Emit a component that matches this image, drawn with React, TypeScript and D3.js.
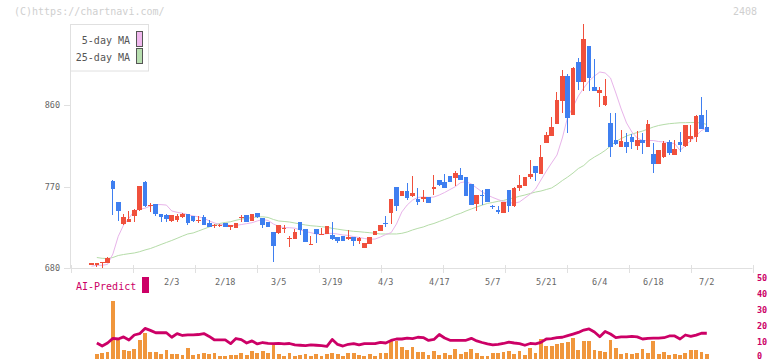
import * as d3 from "d3";

// price candles (one per trading day, 1/13 .. 7/2)
const open = [
  684, 684, 685, 686, 776, 753, 729, 731, 737, 744,
  775, 748.5, 751, 740, 738, 732, 733, 736, 740, 737,
  732.5, 736, 730, 727, 727, 730, 725, 724.5, 735, 738.5,
  732, 741, 735, 730.5, 719.5, 719, 724, 711.7, 712, 731,
  723, 706, 723, 717.5, 718, 716, 714, 715, 711.7, 714,
  710, 702.4, 707, 717, 721, 730, 741, 769.5, 760, 765,
  759, 756, 757.5, 758, 767.6, 777, 775, 781.6, 779.7, 782.7,
  780.5, 773, 750.4, 761, 767, 749, 744, 741, 766, 748,
  768, 771, 781, 792.7, 784, 818.4, 826, 839.4, 865, 892,
  849, 907, 885, 925, 880, 873, 860, 840, 821, 814,
  819, 825, 815, 821, 814, 806, 795, 803, 819, 805,
  819, 815, 822.5, 825, 849, 836,
];
const close = [
  685, 685, 687, 691, 767, 743, 736, 734, 744, 771,
  748, 749.5, 740, 736, 734, 738.5, 737, 740, 730, 732,
  733, 728, 725, 727.5, 727.5, 725, 727.5, 730, 736, 731,
  739.6, 736, 728, 725.6, 704.6, 727.5, 724.5, 713, 720, 722,
  709, 707, 718, 718, 726, 712, 710, 710, 714, 710,
  713, 707.3, 714, 721, 728, 728.6, 756, 749, 765, 757.6,
  763, 753, 758, 752, 769.5, 772, 768.7, 775, 784.6, 777.7,
  760, 750, 760.6, 760.5, 753, 748, 742, 753, 748, 768.7,
  771.7, 780.5, 784, 785, 803, 827, 836, 865.6, 892, 846,
  901, 885, 933, 890, 876, 877, 870, 814, 817, 820,
  814, 819.5, 821, 818, 839, 795, 810, 818, 807, 811,
  816, 838, 826, 848, 834, 830,
];
const high = [
  685, 685, 687, 692, 777, 753, 740, 743, 745, 771,
  776, 752, 751, 740, 740, 739, 740, 741, 740, 737,
  737, 738, 733, 729, 729, 730, 728, 730, 738, 739,
  740, 741, 735, 731, 720, 728, 728, 715, 723, 731,
  723, 715, 723, 724, 726, 731, 714, 715, 722, 714,
  714, 707.5, 714, 721, 728, 737, 756, 770, 765, 774,
  782, 768, 766, 758.5, 783, 777, 784, 782, 787, 790,
  781, 773, 761, 766, 767, 749.5, 748, 753, 766, 769,
  783, 781, 799, 793, 816, 830, 847, 874, 899, 894,
  902, 912, 949.5, 925, 911, 880, 889, 851, 851, 832,
  829, 828, 831, 829, 843.5, 818, 810, 820, 821, 821,
  830, 838, 838, 849, 869, 854.5,
];
const low = [
  684, 681, 680, 686, 738, 732, 727, 731, 731, 743,
  747, 742, 737, 731, 731, 731, 731, 735, 727, 731,
  730, 727, 725, 724, 725, 725, 722, 724, 731, 731,
  732, 735, 724.5, 725, 687, 718, 719, 703, 712, 716,
  709, 706, 708, 716, 718, 711, 708, 710, 711, 704,
  706, 702, 706, 716, 721, 725.6, 729, 743, 760, 755,
  758, 750, 753, 752, 761, 771, 768, 775, 771, 777,
  759, 750, 743, 749.6, 753, 745, 739.6, 741, 742, 747,
  765, 771, 778, 776, 784, 818, 826, 839, 851.5, 829,
  849, 877, 875, 875, 875, 858, 859, 803, 816, 814,
  807, 811, 810, 806, 814, 785, 795, 802, 805, 805,
  808.5, 814, 819, 819, 833, 830,
];

const ma5 = [
  682, 683, 683, 684, 695.5, 715, 727.5, 735, 743, 745,
  746, 748.5, 750, 750, 749.5, 743, 741.5, 740.5, 739, 737.5,
  736.5, 735, 732, 729.7, 728, 727.5, 727, 727, 728, 729,
  730, 732, 733.6, 732.5, 728.6, 726, 724.5, 724.5, 724, 722,
  720.3, 719, 717.5, 717, 718, 718.3, 717.5, 716.5, 716, 714.6,
  713.7, 712.6, 711.7, 712, 714.2, 717, 719, 728.6, 741.9, 749.6,
  755, 758, 758.4, 758, 758.4, 760.6, 763.4, 766.7, 769.8, 774.4,
  775.3, 772.8, 768.4, 764, 760.6, 757.9, 755.6, 753.4, 752.3, 751.5,
  753, 757.3, 761.7, 767.3, 777.2, 787, 796, 804.8, 823.6, 846.8,
  858, 870, 878.8, 886.5, 892, 896.5, 895.4, 889.9, 873.3, 855.6,
  840.2, 830.2, 823.6, 820.8, 820.8, 820.8, 819.7, 819.2, 818, 817.5,
  809.8, 815.3, 820.8, 825.8, 831.9, 834.6,
];
const ma25 = [
  null, 691.6, 690.7, 690.5, 691.6, 693.8, 694.9, 695.8, 696.6, 698,
  699.9, 701.5, 703.7, 706, 708.2, 710.4, 712.8, 715.3, 717.6, 718.7,
  720.9, 723.1, 725.3, 727.5, 729.2, 730.3, 731.1, 732.7, 734.1, 734.7,
  735.8, 736.3, 736.6, 735.8, 733.6, 731.9, 731.4, 730.8, 729.7, 728.6,
  727.5, 726.7, 726.2, 725.6, 725, 723.8, 722.9, 722, 721.2, 720.5,
  720.1, 719.5, 719, 718.3, 717.6, 717.6, 717.6, 717.6, 718.3, 719.8,
  722, 723.8, 725.3, 727.5, 729.2, 731.4, 733.6, 735.8, 738.5, 740.4,
  743, 745.2, 747.4, 749.4, 751.3, 752.4, 753.7, 754.6, 756.2, 757.6,
  759.2, 760.6, 762.3, 763.9, 765, 766.7, 768.4, 772.2, 776.6, 780.5,
  784.9, 789.9, 793.2, 798.7, 802.6, 805.9, 809.8, 814.7, 819.7, 823,
  825.8, 828, 829.6, 831.3, 833.5, 835.7, 837.4, 838.5, 839.4, 839.9,
  840.4, 840.5, 840.7, 840.7, 840.2, 838.5,
];

// lower panel: volume bars and AI-Predict score (right axis 0..50)
const volume = [
  0, 2.9, 3.6, 4.2, 36.4, 11.7, 5.8, 5.2, 6.4, 12.1,
  16.4, 4.2, 4.2, 2.9, 5.4, 2.9, 2.9, 2.3, 6.7, 2.3,
  2.9, 3.9, 2.9, 3.9, 1.7, 1.9, 2.3, 2.3, 3.9, 2.3,
  4.8, 3.6, 4.8, 3.6, 8.6, 2.9, 1.7, 3.9, 1.7, 2.3,
  2.9, 1.7, 3.3, 1.7, 2.9, 3.9, 2.9, 1.7, 3.9, 3.9,
  2.3, 1.7, 3.3, 1.7, 4.0, 3.6, 11.1, 11.4, 7.3, 5.4,
  7.3, 4.2, 4.2, 2.3, 4.8, 2.5, 3.6, 2.3, 6.1, 3.3,
  4.2, 6.1, 3.6, 2.1, 1.7, 3.6, 3.6, 4.2, 4.8, 3.1,
  4.8, 2.3, 6.7, 3.6, 12.7, 7.9, 7.9, 9.2, 9.8, 10.4,
  12.9, 5.4, 11.4, 11.4, 5.8, 5.2, 4.2, 12.1, 6.7, 3.3,
  3.6, 3.3, 3.6, 6.1, 3.6, 11.4, 3.1, 4.6, 2.3, 2.9,
  2.3, 3.9, 5.8, 5.4, 4.2, 2.9,
];
const aiPredict = [
  null, 10, 8.1, 10, 12.9, 12.5, 13.8, 11.9, 15, 15.8,
  19.1, 17.9, 16.4, 16.4, 16.4, 13.6, 15.9, 14.7, 15.1, 15.1,
  15.3, 15.9, 14.1, 11.9, 11.9, 11.9, 9.6, 12.8, 12.1, 10,
  11.3, 9.4, 10.3, 9.8, 9.6, 9.8, 9.5, 9.7, 8.8, 8.6,
  8.4, 8.8, 8.6, 8.3, 7.9, 12.2, 9.1, 8.1, 9.2, 9.6,
  8.8, 9.6, 9.6, 9.6, 10.4, 10, 11.6, 12.5, 12.5, 13.1,
  12.7, 13.6, 13.4, 11.6, 12.2, 15.3, 13.1, 11.7, 11.7, 11.7,
  11.7, 12.9, 11.3, 10.3, 9.4, 8.8, 9.2, 9.7, 10.6, 10,
  9.6, 8.6, 9.7, 9.4, 10.4, 12.5, 12.7, 13.3, 13.6, 14.6,
  15.6, 16.6, 18.1, 18.8, 16.9, 13.9, 17.2, 15.6, 13.4, 13.8,
  13.8, 14.2, 13.8, 12.5, 12.9, 13, 13.1, 13.3, 14.4, 14.4,
  12.5, 15, 14.1, 14.9, 16.1, 16.1,
];

const dateLabels = ["2/3", "2/18", "3/5", "3/19", "4/3", "4/17", "5/7", "5/21", "6/4", "6/18", "7/2"];
const dateIndex = [15, 25, 35, 45, 55, 65, 75, 85, 95, 105, 115];
const priceTicks = [680, 770, 860];
const scoreTicks = [0, 10, 20, 30, 40, 50];

const UP = "#f0503c";
const DOWN = "#3f7ff0";
const MAGENTA = "#cc0066";
const FONT = "'DejaVu Sans Mono', monospace";

export default function App() {
  const n = open.length;
  const x = d3.scaleLinear().domain([0, n - 1]).range([91.5, 706.8]);
  const y = d3.scaleLinear().domain([680, 949.5]).range([268, 24]);
  const yBot = d3.scaleLinear().domain([0, 50]).range([359, 279]);
  const frameX = d3.scaleLinear().domain([0, 11]).range([70.5, 752.5]);

  const maLine = d3
    .line<number | null>()
    .defined((d) => d != null)
    .x((_, i) => x(i))
    .y((d) => y(d as number));
  const aiLine = d3
    .line<number | null>()
    .defined((d) => d != null)
    .x((_, i) => x(i))
    .y((d) => yBot(d as number));

  const bodyW = 4.6;

  return (
    <svg
      width={772}
      height={361}
      style={{ position: "absolute", left: 0, top: 0, background: "#fff" }}
      fontFamily={FONT}
    >
      <text x={14} y={15} fontSize={10} fill="#cfcfcf">(C)https://chartnavi.com/</text>
      <text x={757} y={15} fontSize={10} fill="#cfcfcf" textAnchor="end">2408</text>

      {/* frame */}
      <line x1={70.5} x2={70.5} y1={24} y2={268.5} stroke="#e0e0e0" />
      <line x1={70.5} x2={752.5} y1={268.5} y2={268.5} stroke="#e0e0e0" />
      {d3.range(12).map((k) => (
        <line key={k} x1={Math.round(frameX(k)) + 0.5} x2={Math.round(frameX(k)) + 0.5} y1={265} y2={273} stroke="#e0e0e0" />
      ))}
      {priceTicks.map((v) => (
        <g key={v}>
          <line x1={64} x2={70.5} y1={Math.round(y(v)) + 0.5} y2={Math.round(y(v)) + 0.5} stroke="#e0e0e0" />
          <text x={60} y={y(v) + 3} fontSize={8.5} fill="#666" textAnchor="end">{v}</text>
        </g>
      ))}

      {/* moving averages */}
      <path d={maLine(ma25) ?? ""} fill="none" stroke="#b5dca8" strokeWidth={1} />
      <path d={maLine(ma5) ?? ""} fill="none" stroke="#e8b4ea" strokeWidth={1} />

      {/* candles */}
      {open.map((o, i) => {
        const c = close[i];
        const up = c >= o;
        const col = up ? UP : DOWN;
        const cx = x(i);
        const top = y(Math.max(o, c));
        const bot = y(Math.min(o, c));
        return (
          <g key={i} shapeRendering="crispEdges">
            <rect x={Math.round(cx - 0.5)} y={y(high[i])} width={1} height={Math.max(1, y(low[i]) - y(high[i]))} fill={col} />
            <rect x={cx - bodyW / 2} y={top} width={bodyW} height={Math.max(1.2, bot - top)} fill={col} />
          </g>
        );
      })}

      {/* legend */}
      <rect x={70.5} y={24.5} width={78} height={46.5} fill="#fff" stroke="#e0e0e0" />
      <text x={130} y={44} fontSize={10} fill="#555" textAnchor="end">5-day MA</text>
      <text x={130} y={61} fontSize={10} fill="#555" textAnchor="end">25-day MA</text>
      <rect x={136.5} y={31.5} width={6} height={15} fill="#f0b8ee" stroke="#555" />
      <rect x={136.5} y={48.5} width={6} height={15} fill="#b8dfb0" stroke="#555" />

      {/* date labels */}
      {dateLabels.map((t, k) => (
        <text key={t} x={x(dateIndex[k])} y={285} fontSize={8.5} fill="#666" textAnchor="middle">{t}</text>
      ))}

      {/* lower panel */}
      <text x={76} y={290} fontSize={10} fill={MAGENTA}>AI-Predict</text>
      <rect x={142} y={277} width={7} height={16} fill={MAGENTA} />
      {volume.map((v, i) =>
        v > 0 ? (
          <rect key={i} x={x(i) - 1.9} y={yBot(v)} width={3.8} height={yBot(0) - yBot(v)} fill="#f0963c" shapeRendering="crispEdges" />
        ) : null
      )}
      <path d={aiLine(aiPredict) ?? ""} fill="none" stroke={MAGENTA} strokeWidth={2.8} strokeLinejoin="round" />
      {scoreTicks.map((v) => (
        <text key={v} x={757} y={Math.min(yBot(v) + 2, 358.5)} fontSize={8.5} fill={MAGENTA} fontWeight="bold">{v}</text>
      ))}
    </svg>
  );
}
